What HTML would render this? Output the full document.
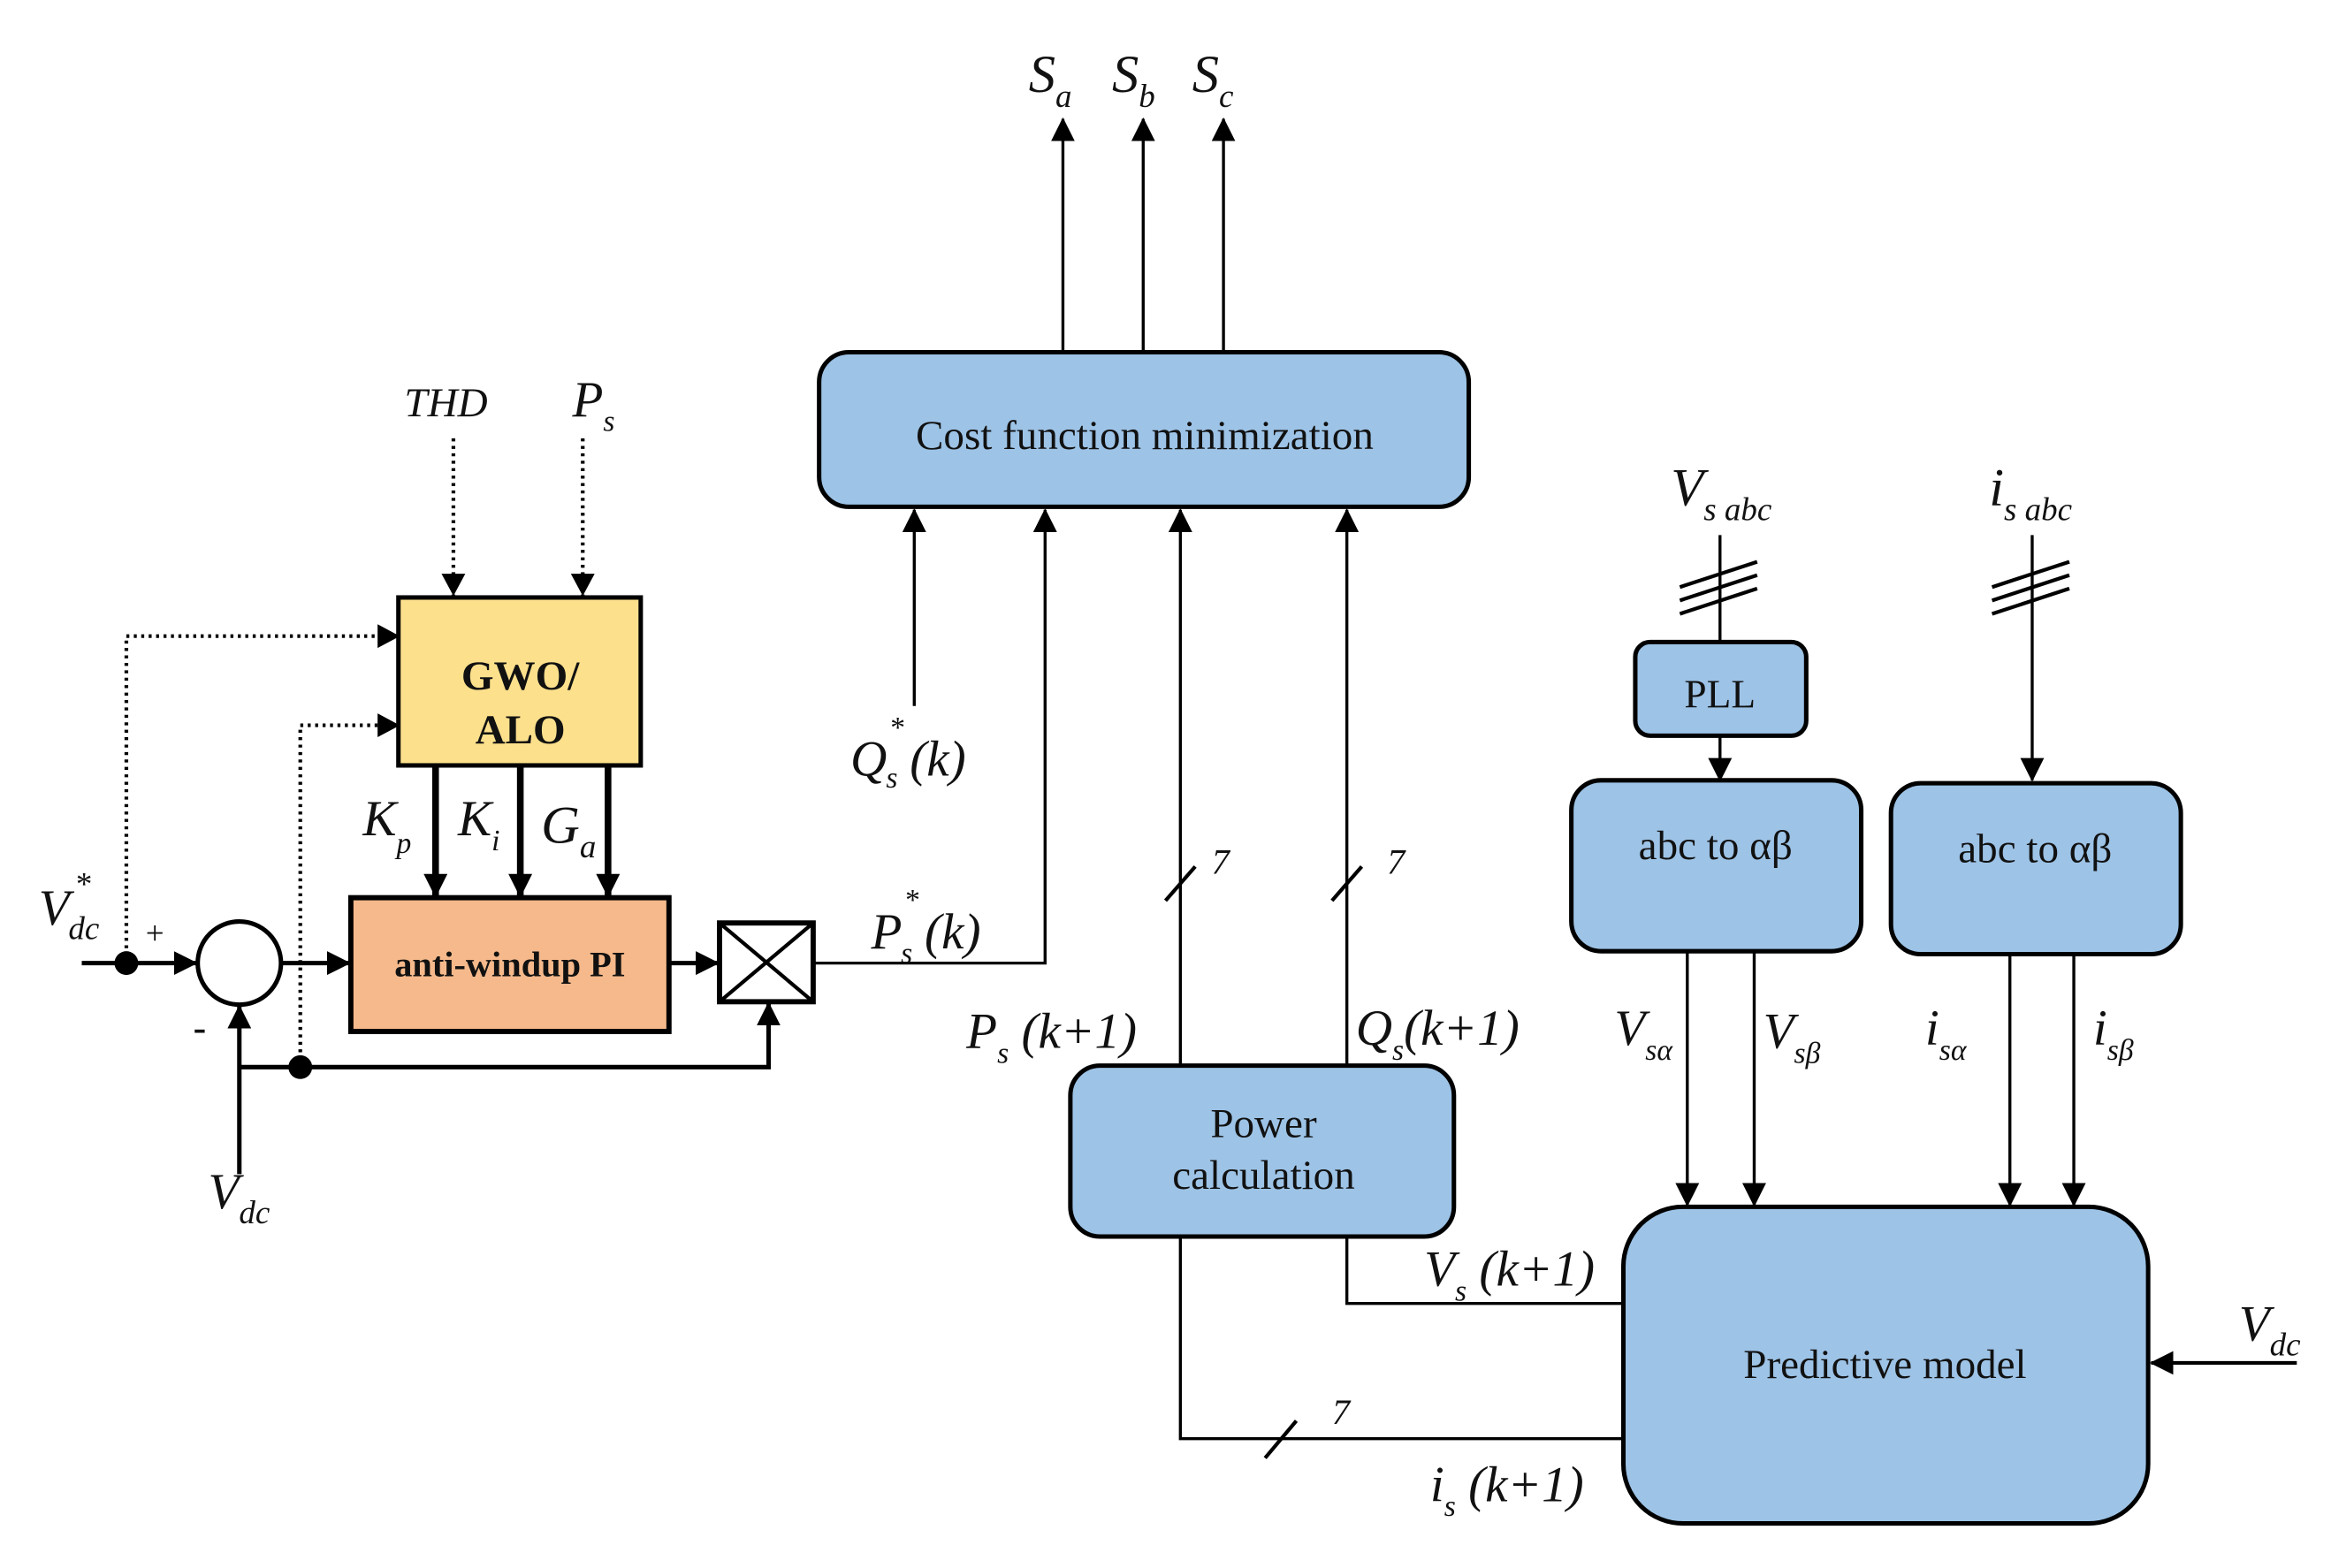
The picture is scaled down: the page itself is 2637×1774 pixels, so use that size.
<!DOCTYPE html>
<html><head><meta charset="utf-8"><style>
html,body{margin:0;padding:0;background:#fff;}
svg{display:block;}
text{font-family:"Liberation Serif",serif;fill:#111;}
.it{font-style:italic;}
.bd{font-weight:bold;}
</style></head><body>
<svg width="2637" height="1774" viewBox="0 0 1568 1055" preserveAspectRatio="none" xmlns="http://www.w3.org/2000/svg">
<defs>
<marker id="a" markerWidth="10" markerHeight="10" refX="9" refY="5" orient="auto" markerUnits="userSpaceOnUse"><path d="M0,0 L10,5 L0,10 z" fill="#000"/></marker>
<marker id="A" markerWidth="16" markerHeight="16" refX="15" refY="8" orient="auto" markerUnits="userSpaceOnUse"><path d="M0,0 L16,8 L0,16 z" fill="#000"/></marker>
</defs>
<g stroke="#000" fill="none">
<!-- Cost function -->
<rect x="551" y="237" width="437" height="104" rx="20" fill="#9dc3e6" stroke-width="3"/>
<!-- S outputs -->
<line x1="715" y1="237" x2="715" y2="80" stroke-width="2" marker-end="url(#A)"/>
<line x1="769" y1="237" x2="769" y2="80" stroke-width="2" marker-end="url(#A)"/>
<line x1="823" y1="237" x2="823" y2="80" stroke-width="2" marker-end="url(#A)"/>
<!-- inputs to cost -->
<line x1="615" y1="475" x2="615" y2="343" stroke-width="2" marker-end="url(#A)"/>
<polyline points="548,648 703,648 703,343" stroke-width="2" marker-end="url(#A)"/>
<line x1="794" y1="717" x2="794" y2="343" stroke-width="2" marker-end="url(#A)"/>
<line x1="906" y1="717" x2="906" y2="343" stroke-width="2" marker-end="url(#A)"/>
<line x1="784" y1="606" x2="804" y2="583" stroke-width="2.5"/>
<line x1="896" y1="606" x2="916" y2="583" stroke-width="2.5"/>
<!-- Power calc -->
<rect x="720" y="717" width="258" height="115" rx="20" fill="#9dc3e6" stroke-width="3"/>
<polyline points="906,832 906,877 1092,877" stroke-width="2"/>
<polyline points="794,832 794,968 1092,968" stroke-width="2"/>
<line x1="851" y1="981" x2="872" y2="956" stroke-width="2.5"/>
<!-- Predictive -->
<rect x="1092" y="812" width="353" height="213" rx="40" fill="#9dc3e6" stroke-width="3"/>
<line x1="1545" y1="917" x2="1447" y2="917" stroke-width="2.5" marker-end="url(#A)"/>
<!-- Vs abc path -->
<line x1="1157" y1="360" x2="1157" y2="432" stroke-width="2"/>
<line x1="1130" y1="395" x2="1182" y2="378" stroke-width="2.5"/>
<line x1="1130" y1="404" x2="1182" y2="387" stroke-width="2.5"/>
<line x1="1130" y1="413" x2="1182" y2="396" stroke-width="2.5"/>
<rect x="1100" y="432" width="115" height="63" rx="10" fill="#9dc3e6" stroke-width="3"/>
<line x1="1157" y1="495" x2="1157" y2="525" stroke-width="2" marker-end="url(#A)"/>
<rect x="1057" y="525" width="195" height="115" rx="20" fill="#9dc3e6" stroke-width="3"/>
<!-- is abc -->
<line x1="1367" y1="360" x2="1367" y2="525" stroke-width="2" marker-end="url(#A)"/>
<line x1="1340" y1="395" x2="1392" y2="378" stroke-width="2.5"/>
<line x1="1340" y1="404" x2="1392" y2="387" stroke-width="2.5"/>
<line x1="1340" y1="413" x2="1392" y2="396" stroke-width="2.5"/>
<rect x="1272" y="527" width="195" height="115" rx="20" fill="#9dc3e6" stroke-width="3"/>
<line x1="1135" y1="640" x2="1135" y2="811" stroke-width="2" marker-end="url(#A)"/>
<line x1="1180" y1="640" x2="1180" y2="811" stroke-width="2" marker-end="url(#A)"/>
<line x1="1352" y1="642" x2="1352" y2="811" stroke-width="2" marker-end="url(#A)"/>
<line x1="1395" y1="642" x2="1395" y2="811" stroke-width="2" marker-end="url(#A)"/>
<!-- Left part -->
<line x1="305" y1="295" x2="305" y2="401" stroke-width="2.5" stroke-dasharray="2,3" />
<path d="M297,386 L305,401 L313,386z" fill="#000" stroke="none"/>
<line x1="392" y1="295" x2="392" y2="401" stroke-width="2.5" stroke-dasharray="2,3"/>
<path d="M384,386 L392,401 L400,386z" fill="#000" stroke="none"/>
<polyline points="85,648 85,428 255,428" stroke-width="2.5" stroke-dasharray="2,3"/>
<path d="M254,420 L269,428 L254,436z" fill="#000" stroke="none"/>
<polyline points="202,718 202,488 255,488" stroke-width="2.5" stroke-dasharray="2,3"/>
<path d="M254,480 L269,488 L254,496z" fill="#000" stroke="none"/>
<rect x="268" y="402" width="163" height="113" fill="#fce08c" stroke-width="3"/>
<line x1="293" y1="515" x2="293" y2="603" stroke-width="4.5" marker-end="url(#A)"/>
<line x1="350" y1="515" x2="350" y2="603" stroke-width="4.5" marker-end="url(#A)"/>
<line x1="409" y1="515" x2="409" y2="603" stroke-width="4.5" marker-end="url(#A)"/>
<rect x="236" y="604" width="214" height="90" fill="#f5b98b" stroke-width="3.5"/>
<line x1="55" y1="648" x2="132" y2="648" stroke-width="3" marker-end="url(#A)"/>
<circle cx="161" cy="648" r="28" fill="#fff" stroke-width="3"/>
<line x1="189" y1="648" x2="235" y2="648" stroke-width="3" marker-end="url(#A)"/>
<line x1="450" y1="648" x2="483" y2="648" stroke-width="3" marker-end="url(#A)"/>
<rect x="484" y="621" width="63" height="53" fill="#fff" stroke-width="3.5"/>
<line x1="484" y1="621" x2="547" y2="674" stroke-width="2.5"/>
<line x1="547" y1="621" x2="484" y2="674" stroke-width="2.5"/>
<line x1="161" y1="790" x2="161" y2="677" stroke-width="3" marker-end="url(#A)"/>
<polyline points="161,718 517,718 517,675" stroke-width="3" marker-end="url(#A)"/>
</g>
<circle cx="85" cy="648" r="8" fill="#000"/>
<circle cx="202" cy="718" r="8" fill="#000"/>
<!-- Text -->
<text x="770" y="302" font-size="28" text-anchor="middle">Cost function minimization</text>
<text x="850" y="765" font-size="28" text-anchor="middle">Power</text>
<text x="850" y="800" font-size="28" text-anchor="middle">calculation</text>
<text x="1268" y="927" font-size="28" text-anchor="middle">Predictive model</text>
<text x="1157" y="476" font-size="27" text-anchor="middle">PLL</text>
<text x="1154" y="578" font-size="28" text-anchor="middle">abc to αβ</text>
<text x="1369" y="580" font-size="28" text-anchor="middle">abc to αβ</text>
<text x="350" y="464" font-size="28" text-anchor="middle" class="bd">GWO/</text>
<text x="350" y="500" font-size="28" text-anchor="middle" class="bd">ALO</text>
<text x="343" y="657" font-size="24" text-anchor="middle" class="bd">anti-windup PI</text>
<g class="it" font-size="36">
<text x="692" y="62">S<tspan font-size="22" dy="10">a</tspan></text>
<text x="748" y="62">S<tspan font-size="22" dy="10">b</tspan></text>
<text x="802" y="62">S<tspan font-size="22" dy="10">c</tspan></text>
</g>
<text x="272" y="280" font-size="28" class="it">THD</text>
<text x="385" y="280" font-size="34" class="it">P<tspan font-size="20" dy="10">s</tspan></text>
<text x="244" y="562" font-size="34" class="it">K<tspan font-size="20" dy="12">p</tspan></text>
<text x="308" y="562" font-size="34" class="it">K<tspan font-size="20" dy="10">i</tspan></text>
<text x="364" y="567" font-size="36" class="it">G<tspan font-size="22" dy="10">a</tspan></text>
<text x="26" y="622" font-size="34" class="it">V</text>
<text x="50" y="602" font-size="22" class="it">*</text>
<text x="46" y="632" font-size="22" class="it">dc</text>
<text x="98" y="635" font-size="22">+</text>
<text x="130" y="700" font-size="26" class="bd">-</text>
<text x="140" y="813" font-size="34" class="it">V<tspan font-size="22" dy="10">dc</tspan></text>
<text x="572" y="522" font-size="34" class="it">Q</text>
<text x="598" y="496" font-size="20" class="it">*</text>
<text x="596" y="530" font-size="20" class="it">s</text>
<text x="612" y="522" font-size="34" class="it">(k)</text>
<text x="586" y="638" font-size="34" class="it">P</text>
<text x="608" y="612" font-size="20" class="it">*</text>
<text x="606" y="648" font-size="20" class="it">s</text>
<text x="622" y="638" font-size="34" class="it">(k)</text>
<text x="815" y="588" font-size="24" class="it">7</text>
<text x="933" y="588" font-size="24" class="it">7</text>
<text x="896" y="958" font-size="24" class="it">7</text>
<text x="650" y="705" font-size="34" class="it">P<tspan font-size="20" dy="10">s</tspan><tspan dy="-10"> (k+1)</tspan></text>
<text x="912" y="703" font-size="34" class="it">Q<tspan font-size="20" dy="10">s</tspan><tspan dy="-10">(k+1)</tspan></text>
<text x="958" y="865" font-size="34" class="it">V<tspan font-size="20" dy="10">s</tspan><tspan dy="-10"> (k+1)</tspan></text>
<text x="962" y="1010" font-size="34" class="it">i<tspan font-size="20" dy="10">s</tspan><tspan dy="-10"> (k+1)</tspan></text>
<text x="1086" y="703" font-size="34" class="it">V<tspan font-size="20" dy="10">sα</tspan></text>
<text x="1186" y="705" font-size="34" class="it">V<tspan font-size="20" dy="10">sβ</tspan></text>
<text x="1295" y="703" font-size="34" class="it">i<tspan font-size="20" dy="10">sα</tspan></text>
<text x="1408" y="703" font-size="34" class="it">i<tspan font-size="20" dy="10">sβ</tspan></text>
<text x="1124" y="340" font-size="36" class="it">V<tspan font-size="22" dy="10">s abc</tspan></text>
<text x="1338" y="340" font-size="36" class="it">i<tspan font-size="22" dy="10">s abc</tspan></text>
<text x="1506" y="902" font-size="34" class="it">V<tspan font-size="22" dy="10">dc</tspan></text>
</svg>
</body></html>
